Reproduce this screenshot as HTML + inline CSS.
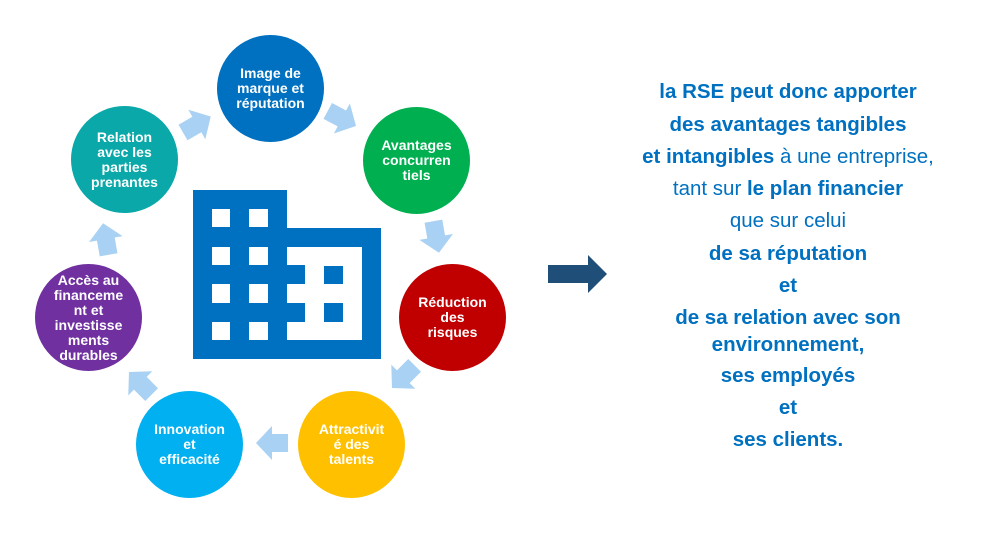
<!DOCTYPE html>
<html><head><meta charset="utf-8"><style>
body{margin:0;width:997px;height:555px;background:#fff;overflow:hidden;position:relative;font-family:"Liberation Sans",Arial,sans-serif}
.c{position:absolute;border-radius:50%;color:#fff;font-weight:bold;font-size:14px;line-height:15px;text-align:center;display:flex;align-items:center;justify-content:center;width:107px;height:107px}
.t{position:absolute;left:538px;width:500px;text-align:center;color:#0070C0;font-size:20.5px;line-height:22px}
.t b{font-weight:bold}
</style></head><body>
<svg width="997" height="555" style="position:absolute;left:0;top:0">
<g fill="#0070C0">
<rect x="193" y="190" width="94" height="169"/>
<rect x="287" y="228" width="94" height="131"/>
</g>
<g fill="#fff">
<rect x="212" y="209" width="18" height="18"/><rect x="249" y="209" width="19" height="18"/>
<rect x="212" y="247" width="18" height="18"/><rect x="249" y="247" width="19" height="18"/>
<rect x="212" y="284" width="18" height="19"/><rect x="249" y="284" width="19" height="19"/>
<rect x="212" y="322" width="18" height="18"/><rect x="249" y="322" width="19" height="18"/>
<rect x="287" y="247" width="75" height="93"/>
</g>
<g fill="#0070C0">
<rect x="287" y="265" width="18" height="19"/><rect x="287" y="303" width="18" height="19"/>
<rect x="324" y="266" width="19" height="18"/><rect x="324" y="303" width="19" height="19"/>
</g>
<g fill="#A9D1F3">
<polygon points="-15,-9 1,-9 1,-17 17,0 1,17 1,9 -15,9" transform="translate(196,125) rotate(-30)"/>
<polygon points="-15,-9 1,-9 1,-17 17,0 1,17 1,9 -15,9" transform="translate(341,118) rotate(28)"/>
<polygon points="-15,-9 1,-9 1,-17 17,0 1,17 1,9 -15,9" transform="translate(436,236) rotate(80)"/>
<polygon points="-15,-9 1,-9 1,-17 17,0 1,17 1,9 -15,9" transform="translate(404,376) rotate(135)"/>
<polygon points="-15,-9 1,-9 1,-17 17,0 1,17 1,9 -15,9" transform="translate(273,443) rotate(180)"/>
<polygon points="-15,-9 1,-9 1,-17 17,0 1,17 1,9 -15,9" transform="translate(141,384) rotate(-135)"/>
<polygon points="-15,-9 1,-9 1,-17 17,0 1,17 1,9 -15,9" transform="translate(106,240) rotate(-100)"/>
</g>
<polygon points="548,265 588,265 588,255 607,274 588,293 588,283 548,283" fill="#1F4E79"/>
</svg>
<div class="c" style="left:217px;top:35px;background:#0070C0">Image de<br>marque et<br>réputation</div>
<div class="c" style="left:363px;top:107px;background:#00B050">Avantages<br>concurren<br>tiels</div>
<div class="c" style="left:399px;top:264px;background:#C00000">Réduction<br>des<br>risques</div>
<div class="c" style="left:298px;top:391px;background:#FFC000">Attractivit<br>é des<br>talents</div>
<div class="c" style="left:136px;top:391px;background:#00B0F0">Innovation<br>et<br>efficacité</div>
<div class="c" style="left:35px;top:264px;background:#7030A0">Accès au<br>financeme<br>nt et<br>investisse<br>ments<br>durables</div>
<div class="c" style="left:71px;top:106px;background:#0AA8A8">Relation<br>avec les<br>parties<br>prenantes</div>
<div class="t" style="top:81px"><b>la RSE peut donc apporter</b></div>
<div class="t" style="top:114px"><b>des avantages tangibles</b></div>
<div class="t" style="top:146px"><b>et intangibles</b> à une entreprise,</div>
<div class="t" style="top:178px">tant sur <b>le plan financier</b></div>
<div class="t" style="top:210px">que sur celui</div>
<div class="t" style="top:243px"><b>de sa réputation</b></div>
<div class="t" style="top:275px"><b>et</b></div>
<div class="t" style="top:307px"><b>de sa relation avec son</b></div>
<div class="t" style="top:334px"><b>environnement,</b></div>
<div class="t" style="top:365px"><b>ses employés</b></div>
<div class="t" style="top:397px"><b>et</b></div>
<div class="t" style="top:429px"><b>ses clients.</b></div>
</body></html>
